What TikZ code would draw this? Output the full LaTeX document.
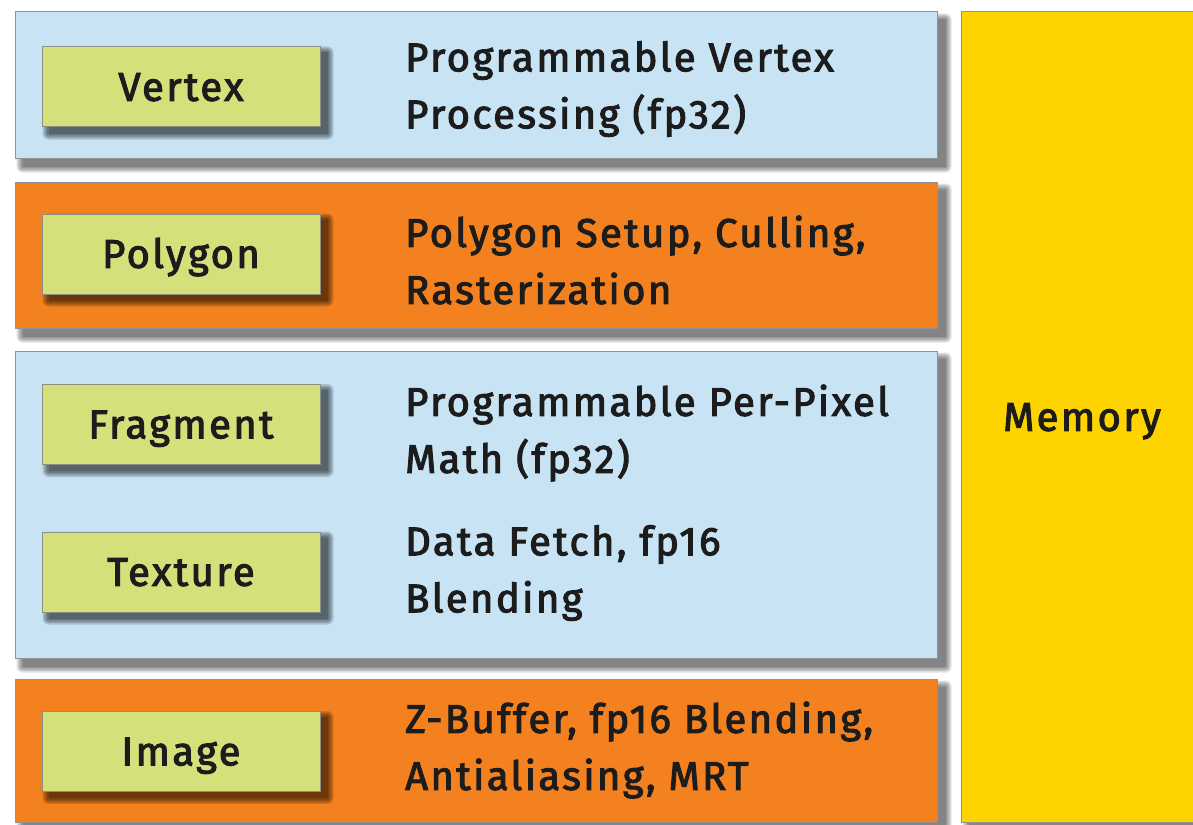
\documentclass[tikz,border=0pt]{standalone}
\usepackage{fontspec}
\setmainfont{Fira Sans}[FakeBold=2.6,LetterSpace=6]
\definecolor{pblue}{HTML}{C7E3F4}
\definecolor{porange}{HTML}{F4811F}
\definecolor{pyellow}{HTML}{FDD300}
\definecolor{lgreen}{HTML}{D5E07B}
\definecolor{pline}{HTML}{909296}
\definecolor{lline}{HTML}{8C8F84}
\definecolor{ink}{HTML}{1C1C1C}
\pgfdeclarelayer{bgA}
\pgfdeclarelayer{bgB}
\pgfdeclarelayer{bgC}
\pgfsetlayers{bgA,bgB,bgC,main}
\newcommand\softshadow[5]{%
  \foreach \r in {0,1.5,3,4.5,6}{%
    \fill[#4, opacity=#5, rounded corners=\r pt]
      ([shift={(#2-\r,#3-\r)}]#1.north west) rectangle ([shift={(#2+\r,#3+\r)}]#1.south east);
  }%
}
\begin{document}
\begin{tikzpicture}[x=1pt,y=-1pt,
  panel/.style={draw=pline, line width=1pt, minimum width=922pt, inner sep=0pt},
  lab/.style={draw=lline, line width=1pt, fill=lgreen, minimum width=278pt, minimum height=80pt,
    inner sep=0pt, text height=27.6pt, text depth=0pt, font=\fontsize{40}{48}\selectfont, text=ink},
  desc/.style={anchor=west, align=left, inner sep=0pt, font=\fontsize{40}{57}\selectfont, text=ink}]
\useasboundingbox (0,0) rectangle (1193,824);
\begin{pgfonlayer}{bgA}
  \fill[white] (0,0) rectangle (1193,824);
\end{pgfonlayer}
\begin{pgfonlayer}{bgB}
  \node[panel, fill=pblue, minimum height=146pt] (p1) at (476,85) {};
  \node[panel, fill=porange, minimum height=146pt] (p2) at (476,255) {};
  \node[panel, fill=pblue, minimum height=307pt] (p3) at (476,504.5) {};
  \node[panel, fill=porange, minimum height=143pt] (p4) at (476,750.5) {};
  \node[draw=pline, line width=1pt, fill=pyellow, minimum width=242pt, minimum height=810pt, inner sep=0pt,
        font=\fontsize{40}{48}\selectfont, text=ink, text height=27.6pt, text depth=0pt] (mem) at (1082,417) {Memory};
\end{pgfonlayer}
\begin{pgfonlayer}{bgA}
  \softshadow{p1}{8}{8}{black}{0.12}
  \softshadow{p2}{8}{8}{black}{0.12}
  \softshadow{p3}{8}{8}{black}{0.12}
  \softshadow{p4}{8}{8}{black}{0.12}
  \softshadow{mem}{8}{8}{black}{0.12}
\end{pgfonlayer}
\node[lab] (vertex) at (181,87) {Vertex};
\node[lab] (polygon) at (181,254) {Polygon};
\node[lab] (fragment) at (181,424.5) {Fragment};
\node[lab] (texture) at (181,572) {Texture};
\node[lab] (image) at (181,751.5) {Image};
\begin{pgfonlayer}{bgC}
  \softshadow{vertex}{7}{6}{black}{0.15}
  \softshadow{polygon}{7}{6}{black}{0.15}
  \softshadow{fragment}{7}{6}{black}{0.15}
  \softshadow{texture}{7}{6}{black}{0.15}
  \softshadow{image}{7}{6}{black}{0.15}
\end{pgfonlayer}
\node[desc] (dvertex) at (405,89) {Programmable Vertex\\Processing (fp32)};
\node[desc] (dpolygon) at (405,260) {Polygon Setup, Culling,\\Rasterization};
\node[desc] (dfragment) at (405,433) {Programmable Per-Pixel\\Math (fp32)};
\node[desc] (dtexture) at (405,573) {Data Fetch, fp16\\Blending};
\node[desc] (dimage) at (405,750) {Z-Buffer, fp16 Blending,\\Antialiasing, MRT};
\end{tikzpicture}
\end{document}
